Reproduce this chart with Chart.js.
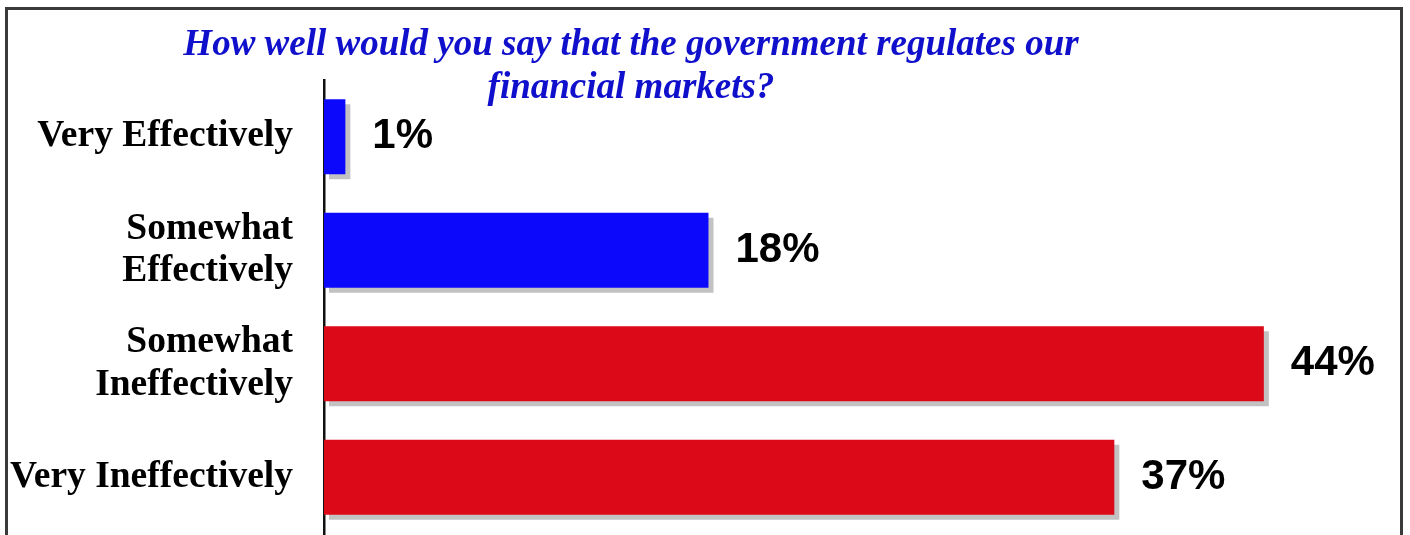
<!DOCTYPE html>
<html>
<head>
<meta charset="utf-8">
<script src="https://cdn.jsdelivr.net/npm/chart.js@4/dist/chart.umd.min.js"></script>
<style>
  html, body { margin: 0; padding: 0; background: #fff; overflow: hidden; }
  #wrap { position: relative; width: 1410px; height: 535px; }
  #frame { position: absolute; left: 5px; top: 7px; width: 1398px; height: 600px;
           border: 3px solid #3a3a3a; box-sizing: border-box; }
  canvas { position: absolute; left: 0; top: 0; }
</style>
</head>
<body>
<div id="wrap">
  <div id="frame"></div>
  <canvas id="c" width="1410" height="535"></canvas>
</div>
<script>
const categories = ['Very Effectively', 'Somewhat Effectively', 'Somewhat Ineffectively', 'Very Ineffectively'];
const tickLabels = [['Very Effectively'], ['Somewhat', 'Effectively'], ['Somewhat', 'Ineffectively'], ['Very Ineffectively']];
const values = [1, 18, 44, 37];
const barColors = ['#0c08fc', '#0c08fc', '#dc0a19', '#dc0a19'];
const valueLabels = ['1%', '18%', '44%', '37%'];
const titleLines = ['How well would you say that the government regulates our', 'financial markets?'];

const shadowPlugin = {
  id: 'barShadow',
  beforeDatasetsDraw(chart) {
    const ctx = chart.ctx;
    ctx.save();
    ctx.shadowColor = '#c2c2c2';
    ctx.shadowOffsetX = 5;
    ctx.shadowOffsetY = 5;
    ctx.shadowBlur = 0;
  },
  afterDatasetsDraw(chart) {
    const ctx = chart.ctx;
    ctx.restore();
    const meta = chart.getDatasetMeta(0);
    ctx.save();
    ctx.fillStyle = '#000';
    ctx.font = 'bold 42px "Liberation Sans", Arial, sans-serif';
    ctx.textAlign = 'left';
    ctx.textBaseline = 'middle';
    meta.data.forEach((bar, i) => {
      ctx.fillText(valueLabels[i], bar.x + 27, bar.y);
    });
    ctx.restore();
  }
};

const titlePlugin = {
  id: 'multiTitle',
  afterDraw(chart) {
    const ctx = chart.ctx;
    ctx.save();
    ctx.fillStyle = '#1010cc';
    ctx.font = 'italic bold 37px "Liberation Serif", "Times New Roman", serif';
    ctx.textAlign = 'center';
    ctx.textBaseline = 'middle';
    ctx.fillText(titleLines[0], 631, 45);
    ctx.fillText(titleLines[1], 631, 88);
    ctx.restore();
  }
};

new Chart(document.getElementById('c'), {
  type: 'bar',
  data: {
    labels: categories,
    datasets: [{
      data: values,
      backgroundColor: barColors,
      borderWidth: 0,
      barPercentage: 0.66,
      categoryPercentage: 1.0
    }]
  },
  options: {
    indexAxis: 'y',
    responsive: false,
    animation: false,
    devicePixelRatio: 1,
    layout: { padding: { top: 80, bottom: 1, left: 0, right: 18 } },
    plugins: { legend: { display: false }, tooltip: { enabled: false }, title: { display: false } },
    scales: {
      x: { display: false, min: 0, max: 50 },
      y: {
        afterFit(scale) { scale.width = 324; scale.paddingTop = 0; scale.paddingBottom = 0; },
        grid: { display: false, drawTicks: false },
        border: { display: true, color: '#111', width: 2.5 },
        ticks: {
          padding: 31,
          color: '#000',
          font: { family: '"Liberation Serif", "Times New Roman", serif', size: 37.5, weight: 'bold', lineHeight: 1.13 },
          callback: (v, i) => tickLabels[i]
        }
      }
    }
  },
  plugins: [shadowPlugin, titlePlugin]
});
</script>
</body>
</html>
